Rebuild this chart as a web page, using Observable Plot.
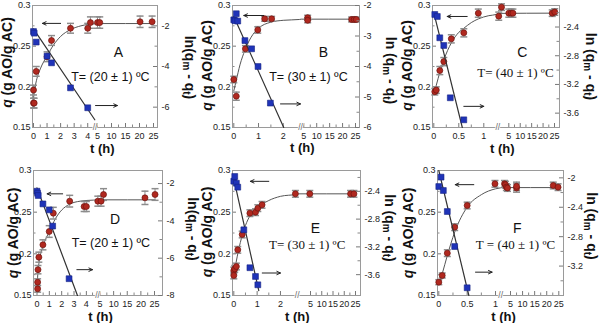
<!DOCTYPE html>
<html><head><meta charset="utf-8">
<script src="https://cdn.jsdelivr.net/npm/d3@7"></script>
<script src="https://cdn.jsdelivr.net/npm/@observablehq/plot@0.6"></script>
<style>
body{margin:0;background:#fff;}
#wrap{position:relative;width:600px;height:323px;overflow:hidden;}
.panel{position:absolute;width:200px;}
.panel svg{position:absolute;left:0;top:0;}
</style></head><body><div id="wrap"></div>
<script>
// ---------- data (t in h, q in g AO/g AC, ln(qm - qt)) ----------
const qTicks = [0.15, 0.2, 0.25, 0.3];
const qMinor = [0.175, 0.225, 0.275];

const A_xTicks = [0,1,2,3,4,5,10,15,20,25];
const A_xMinor = [0.5,1.5,2.5,3.5,7.5,12.5,17.5,22.5];
const A_lnTicks = [-6,-4,-2];
const A_lnMinor = [-5,-3];
const A_q = [[0,0.180,0.006],[0.05,0.180,0.006],[0,0.196,0.006],[0.2,0.219,0.006],[1,0.237,0.006],[1.33,0.257,0.006],[2.73,0.272,0.006],[4,0.272,0.006],[4.2,0.279,0.007],[5,0.279,0.007],[5.8,0.279,0.007],[20.2,0.28,0.007],[24.5,0.28,0.007]];
const A_ln = [[0,-2.28],[0.05,-2.36],[0.2,-2.8],[1,-3.49],[1.33,-3.82],[2.73,-5.05],[4,-6.03]];
const A_qfit = [[0,0.186],[0.1,0.198],[0.25,0.21],[0.5,0.222],[1,0.238],[1.5,0.252],[2,0.262],[2.75,0.2705],[3.5,0.275],[4.5,0.2775],[5,0.2778],[25,0.2778]];
const A_lnfit = [[0,-2.15],[4.55,-6.62]];
const A_arrows = [[2.0,0.278,0.66,0.278],[4.67,0.177,12.1,0.177]];

const B_xTicks = [0,1,2,5,10,15,20,25];
const B_xMinor = [0.5,1.5,7.5,12.5,17.5,22.5];
const B_lnTicks = [-6,-5,-4,-3,-2];
const B_lnMinor = [-5.5,-4.5,-3.5,-2.5];
const B_q = [[0,0.209,0.004],[0.1,0.1885,0.005],[0.47,0.2467,0.004],[0.97,0.270,0.004],[1.25,0.2836,0.003],[1.53,0.2836,0.003],[6.5,0.285,0.003],[6.5,0.2818,0.003],[23.5,0.2828,0.003],[24.5,0.2828,0.003],[25.3,0.2828,0.003]];
const B_ln = [[0,-2.47],[0.05,-2.5],[0.1,-2.27],[0.16,-2.51],[0.45,-3.15],[0.72,-3.42],[0.98,-4.0],[1.48,-5.2]];
const B_qfit = [[0,0.195],[0.1,0.208],[0.25,0.227],[0.45,0.245],[0.7,0.261],[1,0.272],[1.5,0.2795],[2,0.2818],[2.65,0.2828],[4,0.2832],[25.3,0.2832]];
const B_lnfit = [[0,-2.36],[2.02,-6.0]];
const B_arrows = [[1.21,0.2877,0.405,0.2877],[1.89,0.179,3.5,0.179]];

const C_xTicks = [0,0.5,1,5,10,15,20,25];
const C_xMinor = [0.25,0.75,7.5,12.5,17.5,22.5];
const C_lnTicks = [-3.6,-3.2,-2.8,-2.4];
const C_lnMinor = [-3.4,-3.0,-2.6,-2.2];
const C_q = [[0.02,0.194,0.004],[0.05,0.196,0.004],[0.12,0.22,0.005],[0.2,0.231,0.005],[0.35,0.259,0.005],[0.6,0.2664,0.005],[0.89,0.2906,0.005],[2.07,0.2869,0.005],[2.87,0.298,0.004],[5,0.2906,0.005],[6.05,0.2906,0.005],[6.8,0.2906,0.005],[24,0.2906,0.004],[25.1,0.292,0.004]];
const C_ln = [[0.02,-2.225],[0.07,-2.253],[0.12,-2.55],[0.2,-2.657],[0.33,-3.386],[0.6,-3.693]];
const C_qfit = [[0,0.192],[0.05,0.202],[0.12,0.218],[0.2,0.233],[0.35,0.254],[0.5,0.267],[0.6,0.272],[0.75,0.279],[0.89,0.2835],[1.1,0.2875],[1.25,0.289],[2,0.2903],[25,0.2906]];
const C_lnfit = [[0,-2.2],[0.57,-3.8]];
const C_arrows = [[0.668,0.2865,0.268,0.2865],[0.6,0.176,1.0,0.176]];

const D_xTicks = [0,1,2,3,4,5,10,15,20,25];
const D_xMinor = [0.5,1.5,2.5,3.5,4.5,7.5,12.5,17.5,22.5];
const D_lnTicks = [-8,-6,-4,-2];
const D_lnMinor = [-7,-5,-3];
const D_q = [[0.05,0.158,0.004],[0.05,0.166,0.004],[0.08,0.181,0.005],[0.15,0.196,0.006],[0.48,0.2108,0.006],[0.99,0.2268,0.007],[1.32,0.2488,0.007],[2.65,0.2632,0.007],[3.82,0.2568,0.006],[4.0,0.2568,0.006],[4.87,0.2632,0.006],[5.4,0.2632,0.006],[6.3,0.2712,0.007],[21.5,0.2672,0.008],[25.2,0.2712,0.007]];
const D_ln = [[0,-2.41],[0.05,-2.52],[0.1,-2.64],[0.48,-3.09],[0.99,-3.41],[1.27,-4.28],[2.6,-7.1]];
const D_qfit = [[0,0.156],[0.05,0.172],[0.15,0.188],[0.3,0.2],[0.5,0.21],[1,0.2268],[1.5,0.2424],[2,0.2525],[2.65,0.2596],[3.5,0.2632],[4.6,0.2645],[5,0.2648],[25.2,0.2648]];
const D_lnfit = [[0,-2.23],[3.28,-8.0]];
const D_arrows = [[2.08,0.272,0.82,0.272],[3.23,0.181,4.5,0.181]];

const E_xTicks = [0,1,2,5,10,15,20,25];
const E_xMinor = [0.5,1.5,7.5,12.5,17.5,22.5];
const E_lnTicks = [-3.6,-3.2,-2.8,-2.4];
const E_lnMinor = [-3.4,-3.0,-2.6,-2.2];
const E_q = [[0,0.18,0.004],[0,0.174,0.004],[0.04,0.182,0.004],[0.11,0.1848,0.004],[0.17,0.2048,0.004],[0.36,0.2232,0.004],[0.69,0.2488,0.004],[0.93,0.25,0.004],[1.03,0.2548,0.004],[1.21,0.2588,0.004],[2.64,0.272,0.004],[4.88,0.272,0.004],[22.8,0.272,0.004],[24.3,0.272,0.004]];
const E_ln = [[0,-2.254],[0.04,-2.186],[0.11,-2.283],[0.17,-2.34],[0.43,-2.954],[0.69,-3.5],[0.93,-3.626],[1.03,-3.746]];
const E_qfit = [[0,0.175],[0.1,0.19],[0.2,0.204],[0.36,0.222],[0.5,0.234],[0.7,0.246],[1,0.255],[1.5,0.264],[2,0.269],[2.7,0.2715],[3,0.272],[24.3,0.272]];
const E_lnfit = [[0,-2.22],[1.07,-3.83]];
const E_arrows = [[1.5,0.287,0.71,0.287],[1.22,0.177,2.0,0.177]];

const F_xTicks = [0,0.5,1,5,10,15,20,25];
const F_xMinor = [0.25,0.75,7.5,12.5,17.5,22.5];
const F_lnTicks = [-3.2,-2.8,-2.4,-2];
const F_lnMinor = [-3.4,-3.0,-2.6,-2.2];
const F_q = [[0,0.166,0.003],[0.06,0.174,0.003],[0.15,0.2008,0.004],[0.28,0.232,0.004],[0.5,0.258,0.004],[0.99,0.284,0.004],[2.4,0.284,0.004],[2.8,0.283,0.004],[3.2,0.28,0.004],[3.7,0.279,0.004],[7.5,0.279,0.005],[7.5,0.281,0.005],[22.7,0.282,0.004],[24.7,0.28,0.004]];
const F_ln = [[0,-2.118],[0.04,-1.99],[0.08,-2.172],[0.15,-2.458],[0.28,-2.934],[0.5,-3.495]];
const F_qfit = [[0,0.163],[0.06,0.176],[0.15,0.198],[0.28,0.226],[0.5,0.256],[0.75,0.271],[1,0.278],[1.09,0.2792],[1.3,0.2795],[25,0.2795]];
const F_lnfit = [[0,-1.9],[0.53,-3.6]];
const F_arrows = [[0.617,0.283,0.29,0.283],[0.647,0.178,0.94,0.178]];

const letters = ["A","B","C","D","E","F"];
const temps = ["T= (20 ± 1) ºC","T= (30 ± 1) ºC","T= (40 ± 1) ºC","T= (20 ± 1) ºC","T= (30 ± 1) ºC","T = (40 ± 1) ºC"];
const lnLabels = ["ln(q_m - q_t)","ln (q_m - q_t)","ln (q_m - q_t)","ln(q_m - q_t)","ln (q_m - q_t)","ln (q_m - q_t)"];
const qLabel = "q (g AO/g AC)";
const tLabel = "t (h)";

// ---------- layout (positions / scale geometry) ----------
const SANS = '"Liberation Sans", Arial, sans-serif';
const SERIF = '"Liberation Serif", "Times New Roman", serif';
const layout = [
  {left:0,top:0,height:160,margin:[5,43,33,32],xDomain:[0,4.5,5,25],xRange:[33,94,97,153],lnDomain:[-7,-1],brk:4.6,letterAt:[12.5,0.242],tempAt:[9.6,0.2125],tempFont:SANS,qDx:-24.7,qDy:-4,lnDx:32,lnDy:1,tDx:7.2,tDy:21},
  {left:200,top:0,height:160,margin:[5,41,33,32],xDomain:[0,2.65,4,25],xRange:[33.3,98.8,100.7,155],lnDomain:[-6,-2],brk:3.5,letterAt:[12.6,0.242],tempAt:[6.8,0.2125],tempFont:SANS,qDx:-24.7,qDy:-1,lnDx:30.5,lnDy:4,tDx:6.2,tDy:20},
  {left:400,top:0,height:160,margin:[5,41,33,32],xDomain:[0,1.25,2,5,25],xRange:[33.3,95.8,98,108.3,154],lnDomain:[-3.8,-2.1],brk:1.76,letterAt:[10.9,0.242],tempAt:[7.9,0.2172],tempFont:SERIF,qDx:-24.7,qDy:-1,lnDx:31,lnDy:0,tDx:6.2,tDy:21},
  {left:0,top:160,height:163,margin:[10,38,28,33],xDomain:[0,4.7,5,25],xRange:[36.5,94.5,99.5,154],lnDomain:[-8,-1.3],brk:4.85,letterAt:[10.5,0.2415],tempAt:[9.0,0.2135],tempFont:SANS,qDx:-20,qDy:0,lnDx:30.3,lnDy:-4,tDx:2.5,tDy:21.5},
  {left:200,top:160,height:163,margin:[10,40,28,32],xDomain:[0,2.7,3,5,25],xRange:[33.3,96.3,98,110,155],lnDomain:[-3.9,-2.1],brk:2.77,letterAt:[7.2,0.2298],tempAt:[4.45,0.2105],tempFont:SERIF,qDx:-25.3,qDy:-1,lnDx:29,lnDy:-5,tDx:0.7,tDy:21.5},
  {left:400,top:160,height:163,margin:[10,37,28,37],xDomain:[0,1.1,1.3,5,25],xRange:[38.3,100.7,101.5,110,158.3],lnDomain:[-3.6,-1.9],brk:1.09,letterAt:[7.8,0.2298],tempAt:[7.07,0.2105],tempFont:SERIF,qDx:-29.4,qDy:0,lnDx:27.7,lnDy:-7,tDx:3,tDy:21.5}
];
const series = [
  {xTicks:A_xTicks,xMinor:A_xMinor,lnTicks:A_lnTicks,lnMinor:A_lnMinor,q:A_q,ln:A_ln,qfit:A_qfit,lnfit:A_lnfit,arrows:A_arrows},
  {xTicks:B_xTicks,xMinor:B_xMinor,lnTicks:B_lnTicks,lnMinor:B_lnMinor,q:B_q,ln:B_ln,qfit:B_qfit,lnfit:B_lnfit,arrows:B_arrows},
  {xTicks:C_xTicks,xMinor:C_xMinor,lnTicks:C_lnTicks,lnMinor:C_lnMinor,q:C_q,ln:C_ln,qfit:C_qfit,lnfit:C_lnfit,arrows:C_arrows},
  {xTicks:D_xTicks,xMinor:D_xMinor,lnTicks:D_lnTicks,lnMinor:D_lnMinor,q:D_q,ln:D_ln,qfit:D_qfit,lnfit:D_lnfit,arrows:D_arrows},
  {xTicks:E_xTicks,xMinor:E_xMinor,lnTicks:E_lnTicks,lnMinor:E_lnMinor,q:E_q,ln:E_ln,qfit:E_qfit,lnfit:E_lnfit,arrows:E_arrows},
  {xTicks:F_xTicks,xMinor:F_xMinor,lnTicks:F_lnTicks,lnMinor:F_lnMinor,q:F_q,ln:F_ln,qfit:F_qfit,lnfit:F_lnfit,arrows:F_arrows}
];

const capSymbol = {draw(ctx){ ctx.moveTo(-3.5,0); ctx.lineTo(3.5,0); }};
const X = d => d[0], Y = d => d[1];

function richify(svg, raw, html){
  svg.querySelectorAll("text").forEach(t => { if (t.textContent === raw) t.innerHTML = html; });
}
function lnHtml(raw){
  const sp = raw.startsWith("ln (") ? " " : "";
  return `ln${sp}(q<tspan dy="2.5" font-size="10">m</tspan><tspan dy="-2.5"> - q</tspan><tspan dy="2.5" font-size="10">t</tspan><tspan dy="-2.5">)</tspan>`;
}

const wrap = document.getElementById("wrap");
layout.forEach((L, i) => {
  const S = series[i];
  const [mt, mr, mb, ml] = L.margin;
  const W = 200, H = L.height;
  const fw = W - ml - mr, fh = H - mt - mb;
  const xBase = {type: "linear", domain: L.xDomain, range: L.xRange};

  const qPlot = Plot.plot({
    width: W, height: H, marginTop: mt, marginRight: mr, marginBottom: mb, marginLeft: ml,
    style: {fontFamily: SANS, fontSize: "9px", color: "#222", background: "white", overflow: "visible"},
    x: {...xBase, ticks: S.xTicks, tickSize: 0, tickPadding: 5, tickFormat: d => String(d), label: null},
    y: {domain: [0.15, 0.3], ticks: qTicks, tickSize: 0, tickPadding: 2, tickFormat: d => String(d), label: null},
    marks: [
      Plot.ruleX(S.xTicks, {x: d => d, insetTop: fh - 4, stroke: "#777"}),
      Plot.ruleX(S.xMinor, {x: d => d, insetTop: fh - 2.5, stroke: "#888"}),
      Plot.ruleY(qTicks, {y: d => d, insetRight: fw - 4, stroke: "#777"}),
      Plot.ruleY(qMinor, {y: d => d, insetRight: fw - 2.5, stroke: "#888"}),
      Plot.frame({stroke: "#9a9a9a"}),
      Plot.text([L.brk], {x: d => d, y: () => 0.15, text: () => "//", fontSize: 8.5, fill: "#666", stroke: "white", strokeWidth: 1.5, paintOrder: "stroke"}),
      Plot.line(S.qfit, {x: X, y: Y, curve: "monotone-x", stroke: "#555", strokeWidth: 1}),
      Plot.ruleX(S.q, {x: X, y1: d => d[1] - d[2], y2: d => d[1] + d[2], stroke: "#8c8c8c"}),
      Plot.dot(S.q, {x: X, y: d => d[1] - d[2], symbol: capSymbol, stroke: "#8c8c8c", fill: "none"}),
      Plot.dot(S.q, {x: X, y: d => d[1] + d[2], symbol: capSymbol, stroke: "#8c8c8c", fill: "none"}),
      Plot.dot(S.q, {x: X, y: Y, r: 3, fill: "#b0281f", stroke: "#6e1410", strokeWidth: 0.7}),
      Plot.arrow(S.arrows, {x1: d => d[0], y1: d => d[1], x2: d => d[2], y2: d => d[3], stroke: "#222", strokeWidth: 1, headLength: 6, headAngle: 50}),
      Plot.text([letters[i]], {x: () => L.letterAt[0], y: () => L.letterAt[1], text: d => d, fontSize: 14, fontFamily: SANS, fill: "#111"}),
      Plot.text([temps[i]], {x: () => L.tempAt[0], y: () => L.tempAt[1], text: d => d, fontSize: L.tempFont === SERIF ? 13 : 12.5, fontFamily: L.tempFont, fill: "#111"}),
      Plot.text([qLabel], {frameAnchor: "left", textAnchor: "middle", lineAnchor: "middle", rotate: -90, dx: L.qDx, dy: L.qDy, text: d => d, fontSize: 14, fontWeight: "bold", fill: "#111"}),
      Plot.text([tLabel], {frameAnchor: "bottom", textAnchor: "middle", lineAnchor: "middle", dx: L.tDx, dy: L.tDy, text: d => d, fontSize: 13, fontWeight: "bold", fill: "#111"})
    ]
  });

  const lnPlot = Plot.plot({
    width: W, height: H, marginTop: mt, marginRight: mr, marginBottom: mb, marginLeft: ml,
    style: {fontFamily: SANS, fontSize: "9px", color: "#222", background: "transparent", overflow: "visible"},
    x: {...xBase, axis: null},
    y: {domain: L.lnDomain, axis: "right", ticks: S.lnTicks, tickSize: 0, tickPadding: 4, tickFormat: d => String(d), label: null},
    marks: [
      Plot.ruleY(S.lnTicks, {y: d => d, insetLeft: fw - 4, stroke: "#777"}),
      Plot.ruleY(S.lnMinor, {y: d => d, insetLeft: fw - 2.5, stroke: "#888"}),
      Plot.line(S.lnfit, {x: X, y: Y, stroke: "#333", strokeWidth: 1.2}),
      Plot.dot(S.ln, {x: X, y: Y, symbol: "square", r: 3.3, fill: "#1f33b8", stroke: "#152383", strokeWidth: 0.6}),
      Plot.text([lnLabels[i]], {frameAnchor: "right", textAnchor: "middle", lineAnchor: "middle", rotate: 90, dx: L.lnDx, dy: L.lnDy, text: d => d, fontSize: 14, fontWeight: "bold", fill: "#111"})
    ]
  });
  lnPlot.style.background = "transparent";

  richify(qPlot, qLabel, `<tspan font-style="italic">q</tspan> (g AO/g AC)`);
  richify(lnPlot, lnLabels[i], lnHtml(lnLabels[i]));

  const div = document.createElement("div");
  div.className = "panel";
  div.style.left = L.left + "px";
  div.style.top = L.top + "px";
  div.style.height = H + "px";
  div.append(qPlot, lnPlot);
  wrap.append(div);
});
</script></body></html>
